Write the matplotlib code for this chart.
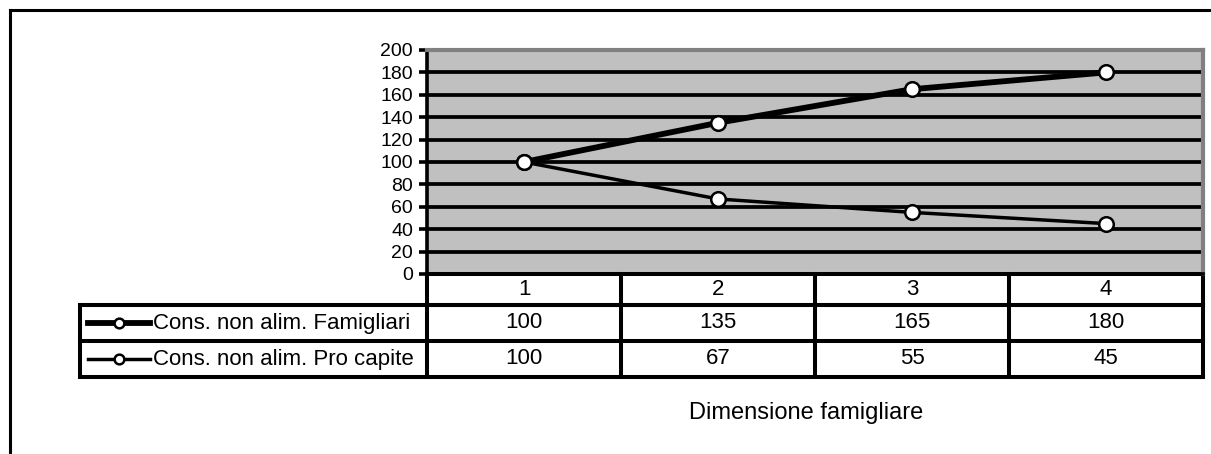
import matplotlib.pyplot as plt
from matplotlib.lines import Line2D

# Data
categories = [1, 2, 3, 4]
series_names = ["Cons. non alim. Famigliari", "Cons. non alim. Pro capite"]
famigliari = [100, 135, 165, 180]
pro_capite = [100, 67, 55, 45]
y_ticks = list(range(0, 201, 20))
x_label = "Dimensione famigliare"

plt.rcParams['font.family'] = ['Liberation Sans', 'DejaVu Sans']

W, H = 1211, 454
fig = plt.figure(figsize=(W / 100, H / 100), dpi=100)

# plot area in pixels: left 427, right 1203, top 50, bottom 274
ax = fig.add_axes([427 / W, (H - 274) / H, (1203 - 427) / W, (274 - 50) / H])
ax.set_facecolor('#c0c0c0')

# outer frame (left and top only)
fig.add_artist(Line2D([10 / W, 10 / W], [0, 1 - 10 / H], color='black', lw=2.2))
fig.add_artist(Line2D([10 / W, 1], [1 - 10 / H, 1 - 10 / H], color='black', lw=2.2))

# series
widths = [4.2, 2.5]
for vals, lw in zip([famigliari, pro_capite], widths):
    ax.plot(categories, vals, color='black', lw=lw, marker='o', markersize=10.5,
            markerfacecolor='white', markeredgecolor='black', markeredgewidth=1.8,
            zorder=5)

ax.set_xlim(0.5, 4.5)
ax.set_ylim(0, 200)
ax.set_yticks(y_ticks)
ax.set_yticklabels([str(t) for t in y_ticks], fontsize=14)
ax.set_xticks([])
ax.tick_params(axis='y', length=6, width=2.6, pad=4, color='black')
for t in y_ticks[1:-1]:
    ax.axhline(t, color='black', lw=2.7, zorder=2)

ax.spines['left'].set_linewidth(2.6)
ax.spines['bottom'].set_linewidth(2.6)
ax.spines['top'].set_color('#808080')
ax.spines['right'].set_color('#808080')
ax.spines['top'].set_linewidth(3)
ax.spines['right'].set_linewidth(3)

# data table below the plot (axes coordinates)
ph = 274 - 50
row_edges = [0, -(305 - 274) / ph, -(341 - 274) / ph, -(377 - 274) / ph]
label_left = (80 - 427) / (1203 - 427)
tw = 2.9
kw = dict(transform=ax.transAxes, color='black', lw=tw, clip_on=False,
          solid_capstyle='projecting')

# horizontal lines
ax.add_line(Line2D([0, 1], [row_edges[1]] * 2, **kw))
ax.add_line(Line2D([label_left, 1], [row_edges[1]] * 2, **kw))
ax.add_line(Line2D([label_left, 1], [row_edges[2]] * 2, **kw))
ax.add_line(Line2D([label_left, 1], [row_edges[3]] * 2, **kw))
ax.add_line(Line2D([0, 1], [0, 0], **kw))
# vertical lines
for i in range(len(categories) + 1):
    xf = i / len(categories)
    ax.add_line(Line2D([xf, xf], [0, row_edges[3]], **kw))
ax.add_line(Line2D([label_left, label_left], [row_edges[1], row_edges[3]], **kw))

# header row
for c in categories:
    ax.text(c, (row_edges[0] + row_edges[1]) / 2, str(c), fontsize=16,
            ha='center', va='center', transform=ax.get_xaxis_transform(),
            clip_on=False)

# value rows with legend keys
for r, (name, vals, lw) in enumerate(zip(series_names, [famigliari, pro_capite], widths)):
    yc = (row_edges[r + 1] + row_edges[r + 2]) / 2
    for c, v in zip(categories, vals):
        ax.text(c, yc, str(v), fontsize=16, ha='center', va='center',
                transform=ax.get_xaxis_transform(), clip_on=False)
    kx0 = (88 - 427) / (1203 - 427)
    kx1 = (150 - 427) / (1203 - 427)
    ax.add_line(Line2D([kx0, kx1], [yc, yc], transform=ax.transAxes,
                       color='black', lw=lw, clip_on=False))
    ax.add_line(Line2D([(kx0 + kx1) / 2], [yc], transform=ax.transAxes,
                       marker='o', markersize=7, markerfacecolor='white',
                       markeredgecolor='black', markeredgewidth=1.8,
                       clip_on=False))
    ax.text((153 - 427) / (1203 - 427), yc, name, fontsize=16, ha='left',
            va='center', transform=ax.transAxes, clip_on=False)

fig.text(806 / W, 1 - 413 / H, x_label, fontsize=17, ha='center', va='center')

fig.savefig('out.png', dpi=100)
